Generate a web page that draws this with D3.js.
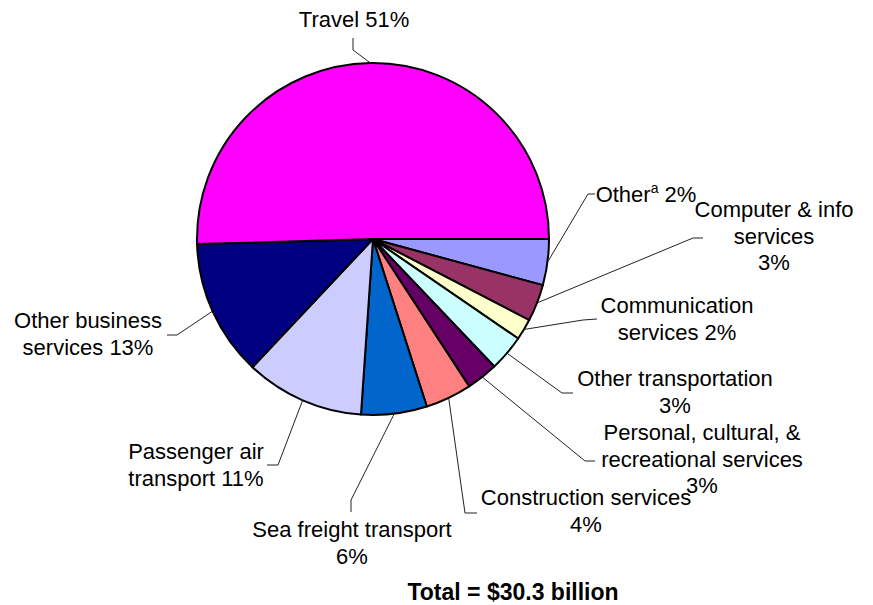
<!DOCTYPE html>
<html>
<head>
<meta charset="utf-8">
<script src="https://cdn.jsdelivr.net/npm/d3@7"></script>
<style>
  body { margin: 0; background: #fff; }
  text { font-family: Arial, "Liberation Sans", sans-serif; fill: #000; }
</style>
</head>
<body>
<div id="chart"></div>
<script>
  // data (values in $ billions)
  var categories = ["Other", "Computer & info services", "Communication services", "Other transportation",
    "Personal, cultural, & recreational services", "Construction services", "Sea freight transport",
    "Passenger air transport", "Other business services", "Travel"];
  var values = [1.28, 1.03, 0.59, 1.01, 0.88, 1.29, 1.83, 3.31, 3.80, 15.30];
  var pctLabels = ["2%", "3%", "2%", "3%", "3%", "4%", "6%", "11%", "13%", "51%"];
  var labelLines = [
    ["Other", "2%"],
    ["Computer & info", "services", "3%"],
    ["Communication", "services 2%"],
    ["Other transportation", "3%"],
    ["Personal, cultural, &", "recreational services", "3%"],
    ["Construction services", "4%"],
    ["Sea freight transport", "6%"],
    ["Passenger air", "transport 11%"],
    ["Other business", "services 13%"],
    ["Travel 51%"]
  ];
  var colors = ["#9999FF", "#993366", "#FFFFCC", "#CCFFFF", "#660066", "#FF8080", "#0066CC", "#CCCCFF", "#000080", "#FF00FF"];
  var totalLabel = "Total = $30.3 billion";

  // label layout (placed by hand like the original chart)
  var labelPos = [
    { x: 646, y: 202, lead: [595, 194, 588, 194] },
    { x: 774, y: 217, lead: [703, 238, 693, 238] },
    { x: 677, y: 313, lead: [597, 319, 583, 320] },
    { x: 675, y: 386, lead: [573, 393, 562, 393] },
    { x: 702, y: 440, lead: [595, 461, 585, 461] },
    { x: 586, y: 505, lead: [477, 513, 465, 513] },
    { x: 352, y: 537, lead: [351, 512, 351, 500] },
    { x: 196, y: 459, lead: [267, 465, 278, 465] },
    { x: 88,  y: 328, lead: [167, 335, 177, 335] },
    { x: 354, y: 27,  lead: [353, 38, 353, 50] }
  ];

  var W = 873, H = 605;
  var cx = 373, cy = 239, radius = 176;
  var lineGap = 26.5;

  var svg = d3.select("#chart").append("svg")
    .attr("width", W)
    .attr("height", H);

  var data = categories.map(function (c, i) {
    return { name: c, value: values[i], pct: pctLabels[i], lines: labelLines[i], color: colors[i], pos: labelPos[i] };
  });

  var pie = d3.pie()
    .sort(null)
    .value(function (d) { return d.value; })
    .startAngle(Math.PI / 2)
    .endAngle(Math.PI / 2 + 2 * Math.PI);

  var arc = d3.arc().innerRadius(0).outerRadius(radius);
  var arcs = pie(data);

  var g = svg.append("g").attr("transform", "translate(" + cx + "," + cy + ")");

  g.selectAll("path.slice")
    .data(arcs)
    .enter()
    .append("path")
    .attr("class", "slice")
    .attr("d", arc)
    .attr("fill", function (d) { return d.data.color; })
    .attr("stroke", "#000")
    .attr("stroke-width", 2)
    .attr("stroke-linejoin", "round");

  // leader lines: label end -> elbow -> slice edge at mid angle
  svg.selectAll("polyline.leader")
    .data(arcs)
    .enter()
    .append("polyline")
    .attr("class", "leader")
    .attr("fill", "none")
    .attr("stroke", "#222")
    .attr("stroke-width", 1)
    .attr("points", function (d) {
      var a = (d.startAngle + d.endAngle) / 2;
      var ex = cx + radius * Math.sin(a);
      var ey = cy - radius * Math.cos(a);
      var l = d.data.pos.lead;
      return [[l[0], l[1]], [l[2], l[3]], [ex, ey]].map(function (p) { return p.join(","); }).join(" ");
    });

  // labels
  var labels = svg.selectAll("text.lbl")
    .data(arcs)
    .enter()
    .append("text")
    .attr("class", "lbl")
    .attr("text-anchor", "middle")
    .style("font-size", "22px");

  labels.each(function (d, i) {
    var t = d3.select(this);
    var p = d.data.pos;
    if (i === 0) {
      // "Other" with superscript footnote mark
      var tt = t.append("tspan").attr("x", p.x).attr("y", p.y);
      tt.append("tspan").text(d.data.lines[0]);
      tt.append("tspan").attr("dy", -9).style("font-size", "14px").text("a");
      tt.append("tspan").attr("dy", 9).text(" " + d.data.lines[1]);
    } else {
      d.data.lines.forEach(function (s, k) {
        t.append("tspan")
          .attr("x", p.x)
          .attr("y", p.y + k * lineGap)
          .text(s);
      });
    }
  });

  svg.append("text")
    .attr("x", 513)
    .attr("y", 600)
    .attr("text-anchor", "middle")
    .style("font-size", "23px")
    .style("font-weight", "bold")
    .text(totalLabel);
</script>
</body>
</html>
